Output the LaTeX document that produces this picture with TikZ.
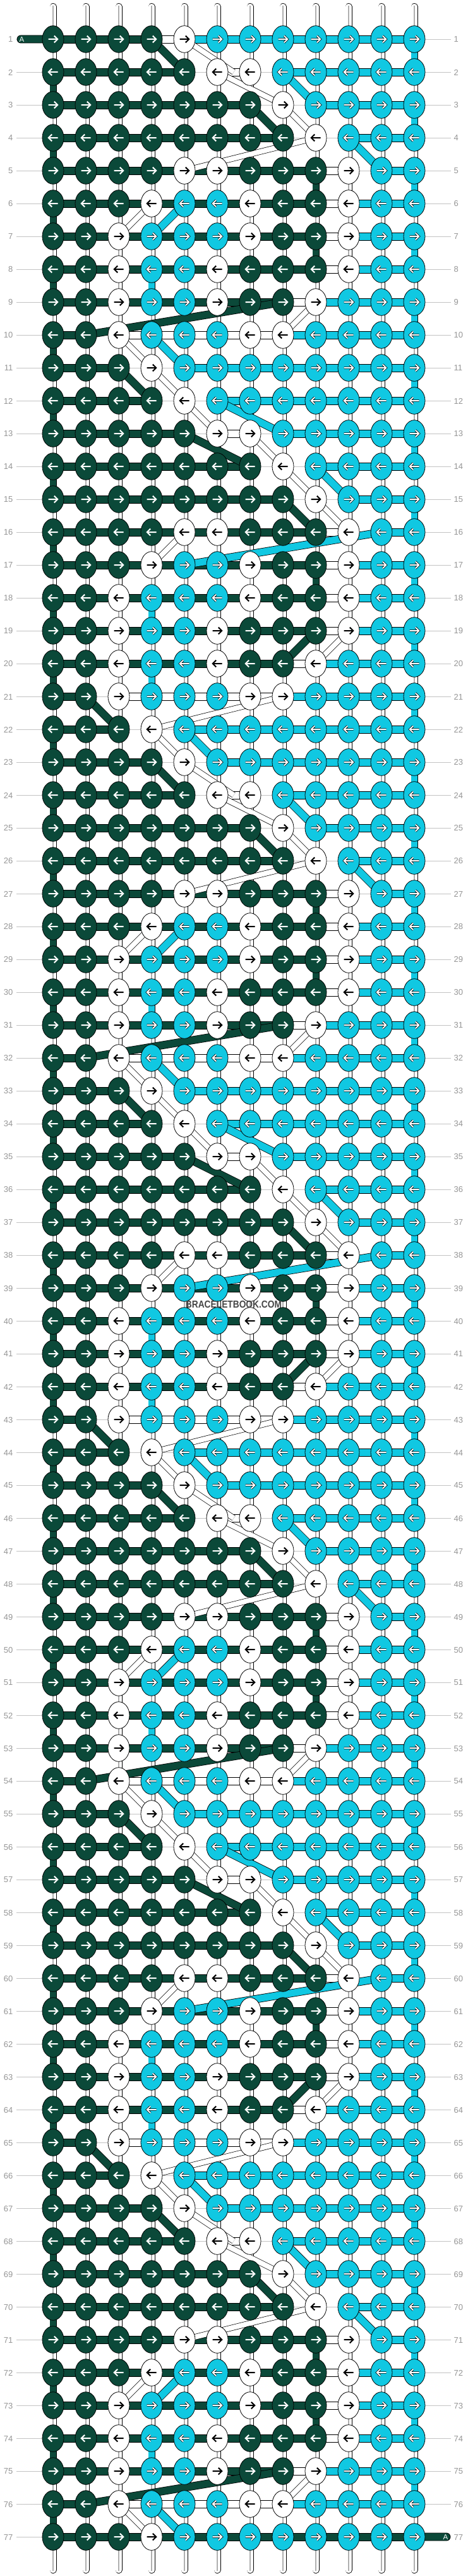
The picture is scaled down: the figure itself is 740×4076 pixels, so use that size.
\documentclass[tikz,border=0pt]{standalone}
\usepackage{fontspec}
\setmainfont{Liberation Sans}
\usetikzlibrary{arrows.meta}
\definecolor{kg}{RGB}{11,73,57}
\definecolor{kc}{RGB}{16,200,226}
\definecolor{kw}{RGB}{255,255,255}
\definecolor{lbl}{RGB}{150,150,150}
\definecolor{rowln}{RGB}{195,195,195}
\definecolor{pipeln}{RGB}{175,175,175}
\definecolor{wm}{RGB}{70,70,70}
\tikzset{
 band kg/.style={fill=kg,draw=black,line width=0.8pt},
 band kc/.style={fill=kc,draw=black,line width=0.8pt},
 band kw/.style={fill=white,draw=black,line width=0.8pt},
 band n/.style={},
 vseg kg/.style={draw=black,line width=0.8pt,double=kg,double distance=9.4pt},
 vseg kc/.style={draw=black,line width=0.8pt,double=kc,double distance=9.4pt},
 vseg n/.style={},
 diag kg/.style={draw=black,line width=0.8pt,double=kg,double distance=11pt},
 diag kc/.style={draw=black,line width=0.8pt,double=kc,double distance=11pt},
 diag kw/.style={draw=black,line width=0.7pt,double=white,double distance=8pt},
 diag n/.style={},
 knot kg/.style={fill=kg,draw=black,line width=0.8pt},
 knot kc/.style={fill=kc,draw=black,line width=0.8pt},
 knot kw/.style={fill=white,draw=black,line width=0.8pt},
 arr kg/.style={draw=white,line width=2pt,line join=miter},
 arr kw/.style={draw=black,line width=2pt,line join=miter},
 arr kc/.style={preaction={draw=black,line width=3.4pt,line join=miter},draw=white,line width=1.9pt,line join=miter},
 pipe/.style={draw=black,line width=0.8pt,double=white,double distance=9.4pt,line cap=round},
 pipeline/.style={draw=pipeln,line width=1.2pt},
 rowline/.style={draw=rowln,line width=0.8pt},
 lab/.style={text=lbl,font=\fontsize{13}{13}\selectfont,inner sep=0pt},
}
\newcommand\PR[5]{%
 \pgfmathtruncatemacro\rr{#1+\off}%
 \ifnum\rr<78 \PASS{#2}{#3}{#4}{#5}\fi}
\def\PatternData{%
\PR{1}{kg,kg,kg,kg,kw,kc,kc,kc,kc,kc,kc,kc}{kg,kg,kg,n,n,kc,kc,kc,kc,kc,kc}{12/kc}{4/5/kg,5/6.5/kw}%
\PR{2}{kg,kg,kg,kg,kg,kw,kw,kc,kc,kc,kc,kc}{kg,kg,kg,kg,n,kw,n,kc,kc,kc,kc}{1/kg}{8/9/kc,6/8/kw}%
\PR{3}{kg,kg,kg,kg,kg,kg,kg,kw,kc,kc,kc,kc}{kg,kg,kg,kg,kg,kg,n,n,kc,kc,kc}{12/kc}{7/8/kg,8/9/kw}%
\PR{4}{kg,kg,kg,kg,kg,kg,kg,kg,kw,kc,kc,kc}{kg,kg,kg,kg,kg,kg,kg,n,n,kc,kc}{1/kg}{10/11/kc,9/5/kw}%
\PR{5}{kg,kg,kg,kg,kw,kw,kg,kg,kg,kw,kc,kc}{kg,kg,kg,kg,kg,kg,kg,kg,kw,n,kc}{12/kc,9/kg}{0/0/n}%
\PR{6}{kg,kg,kg,kw,kc,kc,kw,kg,kg,kw,kc,kc}{kg,kg,kg,kg,kg,kg,kg,kg,kw,kc,kc}{1/kg}{4/3/kw,5/4/kc}%
\PR{7}{kg,kg,kw,kc,kc,kc,kw,kg,kg,kw,kc,kc}{kg,kg,kg,kg,kg,kg,kg,kg,kw,kc,kc}{12/kc,9/kg}{0/0/n}%
\PR{8}{kg,kg,kw,kc,kc,kw,kg,kg,kg,kw,kc,kc}{kg,kg,kg,kg,kg,kg,kg,kg,kw,kc,kc}{1/kg,4/kc}{0/0/n}%
\PR{9}{kg,kg,kw,kc,kc,kw,kg,kg,kw,kc,kc,kc}{kg,kg,kg,kg,kg,kg,kg,kw,kc,kc,kc}{12/kc}{8/2/kg,9/8/kw}%
\PR{10}{kg,kg,kw,kc,kc,kc,kw,kw,kc,kc,kc,kc}{kg,n,kw,kw,kw,kw,kw,kc,kc,kc,kc}{1/kg}{3/4/kw,4/5/kc}%
\PR{11}{kg,kg,kg,kw,kc,kc,kc,kc,kc,kc,kc,kc}{kg,kg,n,n,kc,kc,kc,kc,kc,kc,kc}{12/kc}{3/4/kg,4/5/kw}%
\PR{12}{kg,kg,kg,kg,kw,kc,kc,kc,kc,kc,kc,kc}{kg,kg,kg,n,n,kc,kc,kc,kc,kc,kc}{1/kg}{6/8/kc,5/6/kw}%
\PR{13}{kg,kg,kg,kg,kg,kw,kw,kc,kc,kc,kc,kc}{kg,kg,kg,kg,n,kw,n,kc,kc,kc,kc}{12/kc}{5/7/kg,7/8/kw}%
\PR{14}{kg,kg,kg,kg,kg,kg,kg,kw,kc,kc,kc,kc}{kg,kg,kg,kg,kg,kg,n,n,kc,kc,kc}{1/kg}{9/10/kc,8/9/kw}%
\PR{15}{kg,kg,kg,kg,kg,kg,kg,kg,kw,kc,kc,kc}{kg,kg,kg,kg,kg,kg,kg,n,n,kc,kc}{12/kc}{8/9/kg,9/10/kw}%
\PR{16}{kg,kg,kg,kg,kw,kw,kg,kg,kg,kw,kc,kc}{kg,kg,kg,kg,kg,kg,kg,kg,kw,n,kc}{1/kg}{5/4/kw,11/5/kc}%
\PR{17}{kg,kg,kg,kw,kc,kc,kw,kg,kg,kw,kc,kc}{kg,kg,kg,kg,kg,kg,kg,kg,kw,kc,kc}{12/kc,9/kg}{0/0/n}%
\PR{18}{kg,kg,kw,kc,kc,kc,kw,kg,kg,kw,kc,kc}{kg,kg,kg,kg,kg,kg,kg,kg,kw,kc,kc}{1/kg,4/kc}{0/0/n}%
\PR{19}{kg,kg,kw,kc,kc,kw,kg,kg,kg,kw,kc,kc}{kg,kg,kg,kg,kg,kg,kg,kg,kw,kc,kc}{12/kc}{9/8/kg,10/9/kw}%
\PR{20}{kg,kg,kw,kc,kc,kw,kg,kg,kw,kc,kc,kc}{kg,kg,kg,kg,kg,kg,kg,kw,kc,kc,kc}{1/kg,4/kc}{0/0/n}%
\PR{21}{kg,kg,kw,kc,kc,kc,kw,kw,kc,kc,kc,kc}{kg,n,kw,kw,kw,kw,kw,kc,kc,kc,kc}{12/kc}{2/3/kg,8/4/kw}%
\PR{22}{kg,kg,kg,kw,kc,kc,kc,kc,kc,kc,kc,kc}{kg,kg,n,n,kc,kc,kc,kc,kc,kc,kc}{1/kg}{4/5/kw,5/6/kc}%
}
\begin{document}
\begin{tikzpicture}[x=1pt,y=-1pt]
\useasboundingbox (0,0) rectangle (740,4076);
\fill[white] (0,0) rectangle (740,4076);
% row lines
\foreach \r in {1,...,77} {\path[rowline] (26,{10+52*\r}) -- (714,{10+52*\r});}
% vertical pipes
\foreach \i in {1,...,12} {
  \path[pipe] ({32+52*\i},10.5) -- ({32+52*\i},4066.5);
  \path[pipeline] ({32+52*\i},9) -- ({32+52*\i},4068);
}
% pass 1: coloured vertical segments
\def\PASS#1#2#3#4{\ifnum\rr<77 \foreach \vA/\vB in {#3} {\path[vseg \vB] ({32+52*\vA},{10+52*\rr}) -- ({32+52*\vA},{62+52*\rr});}\fi}
\foreach \off in {0,22,44,66} {\PatternData}
% pass 2: horizontal bands
\def\PASS#1#2#3#4{\ifnum\rr=77 \def\bl{kg,kg,kg,kg,kg,kg,kg,kg,kg,kg,kg}\else\def\bl{#2}\fi
 \foreach \vA [count=\i] in \bl {\path[band \vA] ({32+52*\i},{4+52*\rr}) rectangle ({84+52*\i},{16+52*\rr});}}
\foreach \off in {0,22,44,66} {\PatternData}
% row 1 extra bands and the A tabs
\path[band kw] (240,56) rectangle (292,68);
\path[band kc] (292,56) rectangle (344,68);
\path[band kg, rounded corners=6pt] (27,56) rectangle (90,68);
\path[band kg, rounded corners=6pt] (650,4008) rectangle (713,4020);
% pass 3: diagonals
\def\PASS#1#2#3#4{\ifnum\rr<77 \foreach \vA/\vB/\vC in {#4} {\path[diag \vC] ({32+52*\vA},{10+52*\rr}) -- ({32+52*\vB},{62+52*\rr});}\fi}
\foreach \off in {0,22,44,66} {\PatternData}
% pass 4: knots and arrows
\def\PASS#1#2#3#4{\ifodd\rr\def\dir{1}\else\def\dir{-1}\fi
 \foreach \vA [count=\i] in {#1} {
  \path[knot \vA] ({32+52*\i},{10+52*\rr}) ellipse [x radius=17,y radius=21.3];
  \path[arr \vA] ({32+52*\i-7.5*\dir},{10+52*\rr}) -- ({32+52*\i+7*\dir},{10+52*\rr})
     ({32+52*\i+1.8*\dir},{4.7+52*\rr}) -- ({32+52*\i+7.3*\dir},{10+52*\rr}) -- ({32+52*\i+1.8*\dir},{15.3+52*\rr});
 }}
\foreach \off in {0,22,44,66} {\PatternData}
% tab letters
\node[text=white,font=\fontsize{11.5}{12}\selectfont,inner sep=0pt] (atop) at (34.5,62.5) {A};
\node[text=white,font=\fontsize{11.5}{12}\selectfont,inner sep=0pt] (abot) at (705.5,4014.5) {A};
% row labels
\foreach \r in {1,...,77} {
  \node[lab,anchor=east] (l\r) at (20.5,{10.5+52*\r}) {\r};
  \node[lab,anchor=west] (r\r) at (718.5,{10.5+52*\r}) {\r};
}
% watermark
\node[text=wm,font=\bfseries\fontsize{16}{16}\selectfont,inner sep=0pt] (wmark) at (370,2064) {\scalebox{0.86}[1]{BRACELETBOOK.COM}};
\end{tikzpicture}
\end{document}
